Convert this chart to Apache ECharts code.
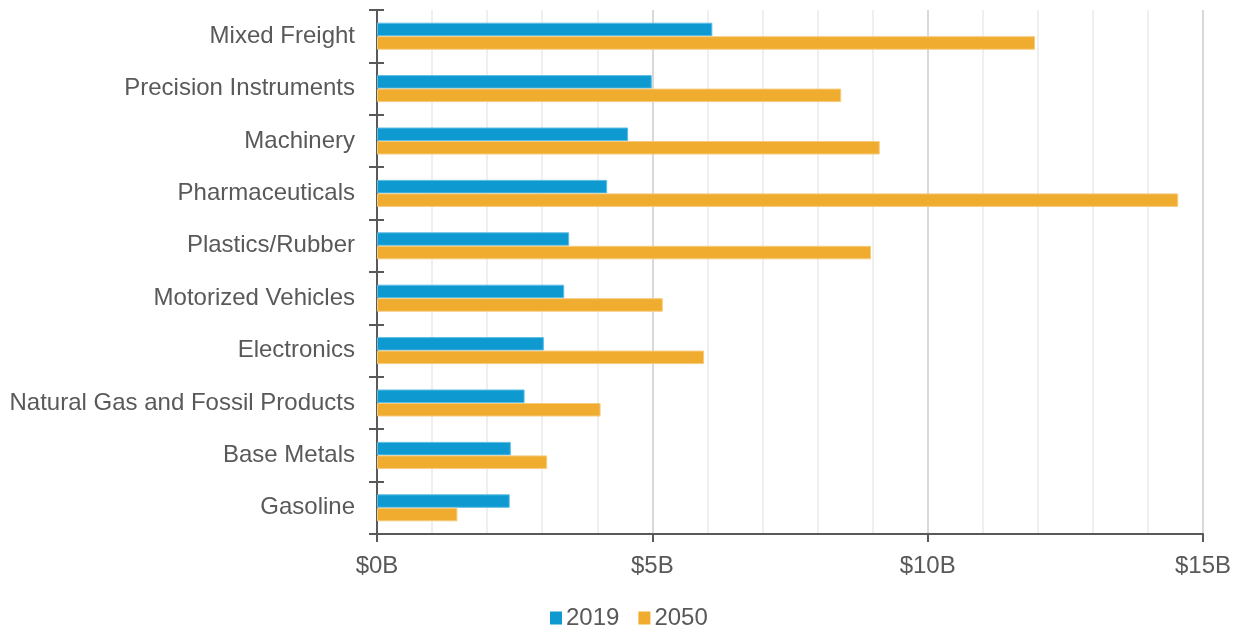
<!DOCTYPE html>
<html>
<head>
<meta charset="utf-8">
<script src="https://cdn.jsdelivr.net/npm/echarts@6/dist/echarts.min.js"></script>
<style>
  html, body { margin: 0; padding: 0; background: #fff; }
  #chart { width: 1236px; height: 626px; }
</style>
</head>
<body>
<div id="chart"></div>
<script>
// Commodity groups, listed top to bottom
const categories = [
  'Mixed Freight',
  'Precision Instruments',
  'Machinery',
  'Pharmaceuticals',
  'Plastics/Rubber',
  'Motorized Vehicles',
  'Electronics',
  'Natural Gas and Fossil Products',
  'Base Metals',
  'Gasoline'
];
// Values in billions of dollars
const values2019 = [6.09, 4.99, 4.56, 4.18, 3.49, 3.40, 3.03, 2.68, 2.43, 2.41];
const values2050 = [11.95, 8.43, 9.13, 14.55, 8.97, 5.19, 5.94, 4.06, 3.09, 1.46];
const seriesNames = ['2019', '2050'];
const xTicks = [0, 5, 10, 15];

const textColor = '#595959';
const font = 'Liberation Sans, Arial, sans-serif';
const fontSize = 24;

const chart = echarts.init(document.getElementById('chart'));

const catAxisBase = {
  type: 'category',
  data: categories,
  inverse: true,
  position: 'left',
  axisLine: { show: true, lineStyle: { color: '#595959', width: 2 } },
  axisTick: { show: true, alignWithLabel: false, length: 8, lineStyle: { color: '#595959', width: 2 } },
  splitLine: { show: false }
};

chart.setOption({
  animation: false,
  textStyle: { fontFamily: font },
  grid: { left: 377, right: 33, top: 10, bottom: 92, containLabel: false },
  legend: {
    top: 601,
    left: 545,
    itemWidth: 12,
    itemHeight: 13,
    itemGap: 19,
    icon: 'rect',
    itemStyle: { borderWidth: 0 },
    textStyle: { color: textColor, fontSize: fontSize, fontFamily: font, padding: [0, 0, 0, -1] },
    data: seriesNames
  },
  xAxis: {
    type: 'value',
    min: xTicks[0],
    max: xTicks[xTicks.length - 1],
    interval: 5,
    axisLine: { show: true, lineStyle: { color: '#595959', width: 2 } },
    axisTick: { show: true, length: 8, lineStyle: { color: '#595959', width: 2 } },
    minorTick: { show: false, splitNumber: 5 },
    axisLabel: {
      color: textColor, fontSize: fontSize, fontFamily: font, margin: 20,
      formatter: v => '$' + v + 'B'
    },
    splitLine: { show: true, lineStyle: { color: '#d9d9d9', width: 2 } },
    minorSplitLine: { show: true, lineStyle: { color: '#efefef', width: 2 } }
  },
  yAxis: [
    Object.assign({}, catAxisBase, {
      axisLabel: { color: textColor, fontSize: fontSize, fontFamily: font, margin: 22 }
    }),
    Object.assign({}, catAxisBase, {
      axisTick: { show: true, inside: true, alignWithLabel: false, length: 7, lineStyle: { color: '#595959', width: 2 } },
      axisLabel: { show: false }
    })
  ],
  series: [
    {
      name: seriesNames[0],
      type: 'bar',
      data: values2019,
      barWidth: 13.5,
      barGap: '0%',
      itemStyle: { color: '#0e9ad0', borderColor: '#5ebde4', borderWidth: 1 }
    },
    {
      name: seriesNames[1],
      type: 'bar',
      data: values2050,
      barWidth: 13.5,
      barGap: '0%',
      itemStyle: { color: '#f0ac2f', borderColor: '#f6cb7c', borderWidth: 1 }
    }
  ]
});
</script>
</body>
</html>
